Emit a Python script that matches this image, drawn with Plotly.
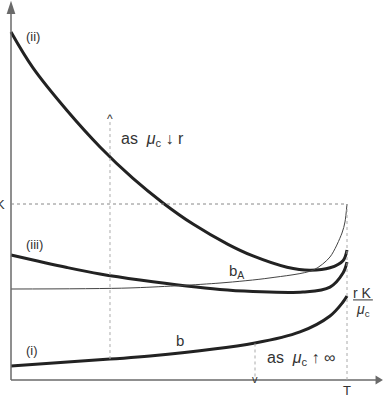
import plotly.graph_objects as go

# Units: x in [0, T], T = 10; y relative to K = 1
T = 10.0
K = 1.0

x_ii = [0, 0.655, 1.667, 2.649, 3.631, 4.524, 5.417, 6.458, 7.202, 8.214, 8.899, 9.494, 9.881, 10]
y_ii = [1.977, 1.773, 1.531, 1.324, 1.145, 1.006, 0.886, 0.771, 0.705, 0.641, 0.624, 0.6375, 0.678, 0.739]

x_iii = [0, 1.667, 2.649, 3.839, 6.220, 7.202, 8.690, 9.494, 9.881, 10]
y_iii = [0.710, 0.639, 0.602, 0.568, 0.514, 0.503, 0.500, 0.528, 0.608, 0.670]

x_bA = [0, 3.542, 6.220, 7.708, 9.0, 9.494, 9.851, 9.94, 10]
y_bA = [0.517, 0.523, 0.551, 0.580, 0.625, 0.699, 0.835, 0.898, 1.0]

x_i = [0, 2.946, 4.137, 7.262, 8.601, 9.494, 9.881, 10]
y_i = [0.080, 0.119, 0.136, 0.210, 0.273, 0.364, 0.443, 0.477]

x_up = 2.946      # "as mu_c down r" marker
y_up_top = 1.477
y_up_bot = 0.119
x_dn = 7.262      # "as mu_c up inf" marker
y_dn_top = 0.210

FONT = "Liberation Sans, Arial, sans-serif"
DARK = "#222222"
GRAY = "#6a6a6a"

fig = go.Figure()
for xs, ys in [(x_ii, y_ii), (x_iii, y_iii), (x_i, y_i)]:
    fig.add_trace(go.Scatter(x=xs, y=ys, mode="lines",
                             line=dict(color=DARK, width=3, shape="spline", smoothing=1.0),
                             hoverinfo="skip", showlegend=False))
fig.add_trace(go.Scatter(x=x_bA, y=y_bA, mode="lines",
                         line=dict(color="#444444", width=1, shape="spline", smoothing=0.8),
                         hoverinfo="skip", showlegend=False))

shapes = []
# axes
shapes.append(dict(type="line", x0=0, y0=0, x1=0, y1=2.12, line=dict(color=GRAY, width=1.5)))
shapes.append(dict(type="line", x0=0, y0=0, x1=11.0, y1=0, line=dict(color=GRAY, width=1.5)))
# dotted guides
dot = dict(color="#888888", width=1, dash="dot")
shapes.append(dict(type="line", x0=0, y0=K, x1=T, y1=K, line=dot))
shapes.append(dict(type="line", x0=T, y0=0, x1=T, y1=K, line=dict(color="#aaaaaa", width=1, dash="dot")))
shapes.append(dict(type="line", x0=x_up, y0=y_up_bot, x1=x_up, y1=y_up_top, line=dict(color="#aaaaaa", width=1, dash="dot")))
shapes.append(dict(type="line", x0=x_dn, y0=0.02, x1=x_dn, y1=y_dn_top, line=dict(color="#aaaaaa", width=1, dash="dot")))
# fraction bar
shapes.append(dict(type="line", x0=10.18, y0=0.455, x1=10.77, y1=0.455, line=dict(color="#333333", width=1)))
# arrow heads
shapes.append(dict(type="path", path="M -0.13 2.08 L 0.13 2.08 L 0 2.155 Z", fillcolor=GRAY, line=dict(width=0)))
shapes.append(dict(type="path", path="M 10.85 0.025 L 10.85 -0.025 L 11.07 0 Z", fillcolor=GRAY, line=dict(width=0)))
fig.update_layout(shapes=shapes)

ann = []
def txt(x, y, s, size=13, xanchor="center", yanchor="middle", color="#333333"):
    ann.append(dict(x=x, y=y, text=s, showarrow=False, xanchor=xanchor, yanchor=yanchor,
                    font=dict(family=FONT, size=size, color=color)))

txt(0.4, 1.95, "(ii)", 13, "left")
txt(0.4, 0.77, "(iii)", 13, "left")
txt(0.4, 0.17, "(i)", 13, "left")
txt(6.72, 0.615, "b<sub>A</sub>", 15)
txt(5.03, 0.225, "b", 15)
txt(-0.30, K, "K", 13)
txt(T, -0.06, "T", 13)
txt(10.476, 0.494, "r K", 14)
txt(10.476, 0.398, "<i>μ</i><sub>c</sub>", 14)
txt(x_up, 1.485, "^", 12)
txt(x_dn, 0.005, "v", 11)
txt(3.2, 1.364, "as  <i>μ</i><sub>c</sub> ↓ r", 16, "left")
txt(7.55, 0.12, "as  <i>μ</i><sub>c</sub> ↑ ∞", 16, "left")
fig.update_layout(annotations=ann)

fig.update_layout(
    width=383, height=397,
    margin=dict(l=0, r=0, t=0, b=0),
    paper_bgcolor="white", plot_bgcolor="white",
    xaxis=dict(range=[-11/33.6, 372/33.6], visible=False, fixedrange=True),
    yaxis=dict(range=[-17/176, 380/176], visible=False, fixedrange=True),
    showlegend=False,
)
fig.write_html("out.html")
